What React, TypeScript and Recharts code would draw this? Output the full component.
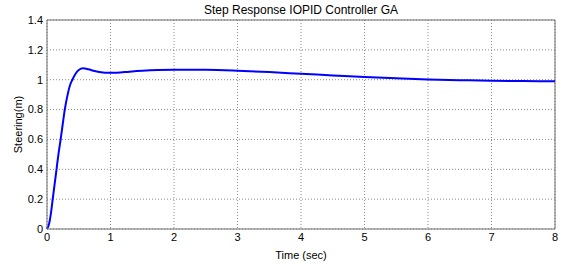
import React from "react";
import {
  LineChart,
  Line,
  CartesianGrid,
  XAxis,
  YAxis,
  ReferenceLine,
} from "recharts";

const times = [
  0, 0.03, 0.06, 0.09, 0.12, 0.15, 0.18, 0.215, 0.25, 0.28, 0.32, 0.36, 0.4,
  0.45, 0.5, 0.57, 0.65, 0.75, 0.85, 0.97, 1.1, 1.3, 1.5, 1.75, 2, 2.5, 3, 3.5,
  4, 4.5, 5, 5.5, 6, 6.5, 7, 7.5, 8,
];
const steering = [
  0, 0.03, 0.1, 0.2, 0.3, 0.4, 0.5, 0.6, 0.71, 0.8, 0.89, 0.96, 1.0, 1.04,
  1.065, 1.076, 1.07, 1.058, 1.05, 1.046, 1.047, 1.054, 1.06, 1.065, 1.067,
  1.066, 1.06, 1.051, 1.04, 1.029, 1.018, 1.009, 1.002, 0.997, 0.993, 0.991,
  0.989,
];
const xTicks = [0, 1, 2, 3, 4, 5, 6, 7, 8];
const yTicks = [0, 0.2, 0.4, 0.6, 0.8, 1, 1.2, 1.4];

const data = times.map((t, i) => ({ t, y: steering[i] }));

const font = "'Liberation Sans', Arial, sans-serif";
const axisColor = "#6e6e6e";

export default function App() {
  return (
    <div
      style={{
        position: "absolute",
        left: 0,
        top: 0,
        width: 563,
        height: 264,
        background: "#fff",
        fontFamily: font,
      }}
    >
      <div
        style={{
          position: "absolute",
          left: 0,
          width: 602,
          top: 3,
          textAlign: "center",
          fontSize: 12,
          color: "#000",
        }}
      >
        Step Response IOPID Controller GA
      </div>
      <LineChart
        width={563}
        height={264}
        data={data}
        margin={{ top: 20, right: 8, bottom: 0, left: 17 }}
      >
        <CartesianGrid
          stroke="#8a8a8a"
          strokeDasharray="1 2"
          horizontalValues={yTicks}
          verticalValues={xTicks}
        />
        <XAxis
          dataKey="t"
          type="number"
          domain={[0, 8]}
          ticks={xTicks}
          tickSize={0}
          tickMargin={4}
          height={35}
          stroke={axisColor}
          tick={{ fill: "#000", fontSize: 11, fontFamily: font }}
          label={{
            value: "Time (sec)",
            position: "insideBottom",
            offset: 5,
            fill: "#000",
            fontSize: 11,
            fontFamily: font,
          }}
        />
        <YAxis
          type="number"
          domain={[0, 1.4]}
          ticks={yTicks}
          tickSize={0}
          tickMargin={4}
          width={30}
          stroke={axisColor}
          tick={{ fill: "#000", fontSize: 11, fontFamily: font }}
          label={{
            value: "Steering(m)",
            angle: -90,
            position: "insideLeft",
            offset: 1,
            style: { textAnchor: "middle" },
            fill: "#000",
            fontSize: 11,
            fontFamily: font,
          }}
        />
        <ReferenceLine y={1.4} stroke={axisColor} />
        <ReferenceLine x={8} stroke={axisColor} />
        <Line
          type="monotone"
          dataKey="y"
          stroke="#0000ff"
          strokeWidth={2}
          dot={false}
          isAnimationActive={false}
        />
      </LineChart>
    </div>
  );
}
